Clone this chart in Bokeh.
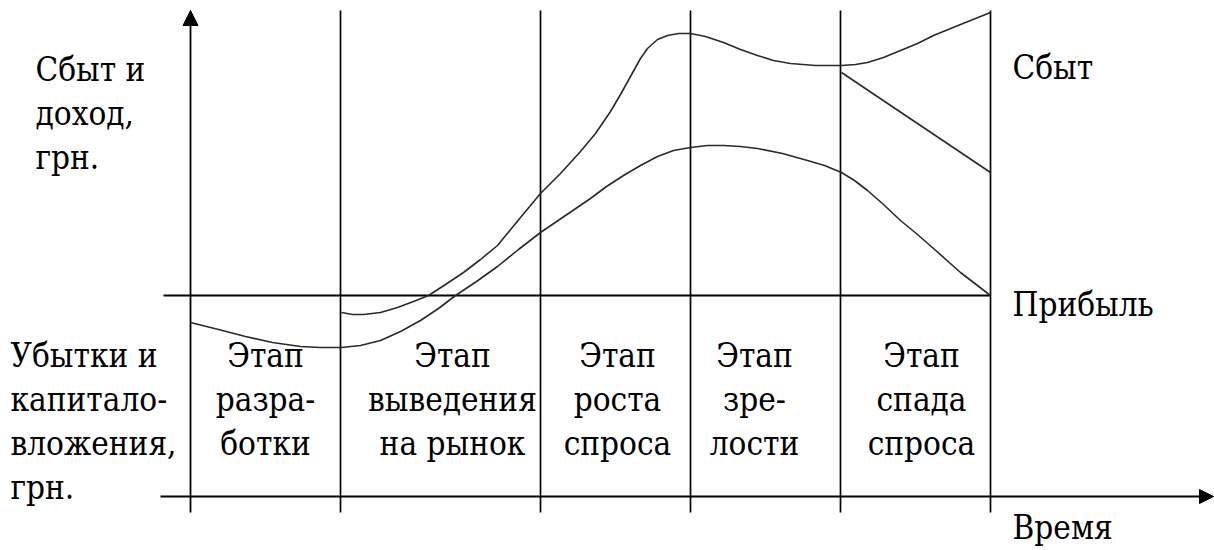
from bokeh.plotting import figure
from bokeh.models import Range1d, Arrow, NormalHead
from bokeh.core.properties import value
from bokeh.embed import file_html
from bokeh.resources import INLINE

# ---------------- data (time units / money units) ----------------
stage_bounds = [0, 15, 35, 50, 65, 80]
stage_labels = [
    ["Этап", "разра-", "ботки"],
    ["Этап", "выведения", "на рынок"],
    ["Этап", "роста", "спроса"],
    ["Этап", "зре-", "лости"],
    ["Этап", "спада", "спроса"],
]

sales_t = [15.1, 16.2, 17.3, 19.0, 20.7, 22.3, 23.8, 25.5, 27.3, 29.0, 30.7, 33.0,
           35.0, 37.0, 39.0, 40.5, 42.0, 43.0, 44.0, 45.0, 45.7, 46.7, 47.7, 48.8,
           50.0, 51.5, 53.3, 55.0, 56.7, 58.3, 60.0, 62.5, 65.1, 66.5, 67.7, 69.3,
           71.0, 72.7, 74.3, 77.0, 80.0]
sales_v = [-1.7, -1.9, -1.9, -1.7, -1.2, -0.6, 0.0, 1.1, 2.3, 3.6, 5.0, 7.8,
           10.2, 12.2, 14.4, 16.2, 18.4, 20.1, 21.9, 23.7, 24.7, 25.6, 26.0, 26.2,
           26.2, 25.9, 25.3, 24.6, 24.0, 23.5, 23.2, 23.0, 23.0, 23.1, 23.3, 23.8,
           24.5, 25.2, 26.0, 27.1, 28.3]

sales_decline_t = [65.1, 80.0]
sales_decline_v = [22.3, 12.3]

profit_t = [0.0, 2.8, 5.5, 8.2, 11.0, 13.0, 15.1, 17.0, 19.0, 21.0, 23.0, 24.8,
            26.5, 28.6, 30.7, 32.8, 35.0, 37.5, 40.0, 41.6, 43.3, 45.0, 46.7, 48.3,
            50.0, 51.7, 53.3, 55.0, 56.7, 59.2, 61.7, 63.4, 65.1, 66.4, 67.7, 69.3,
            71.0, 72.7, 74.3, 77.0, 80.0]
profit_v = [-2.7, -3.4, -4.1, -4.7, -5.1, -5.2, -5.2, -5.0, -4.5, -3.6, -2.5, -1.3,
            0.0, 1.4, 2.9, 4.6, 6.3, 8.0, 9.7, 10.9, 12.0, 13.0, 13.9, 14.5,
            14.8, 15.0, 15.0, 14.9, 14.7, 14.2, 13.5, 13.0, 12.3, 11.5, 10.5, 9.1,
            7.5, 6.1, 4.7, 2.3, 0.0]

upper_axis_label = ["Сбыт и", "доход,", "грн."]
lower_axis_label = ["Убытки и", "капитало-", "вложения,", "грн."]
right_labels = ["Сбыт", "Прибыль", "Время"]

# ---------------- layout ----------------
FONT = value("DejaVu Serif Condensed, DejaVu Serif")
FS = "33px"
TEXT_DY = 1.3          # compensation for the renderer's baseline placement
LINE_STEP = 4.4
grid_top = 28.5
grid_bottom = -21.7
time_axis_v = -20.1
time_axis_start = -3.0
time_axis_end = 102.3
zero_start = -2.7
stage_label_x = [7.5, 26.2, 42.7, 56.4, 73.1]
stage_label_top = -7.3 + TEXT_DY
upper_label_pos = (-15.5, 21.3 + TEXT_DY)
lower_label_pos = (-18.0, -7.3 + TEXT_DY)
right_label_x = 82.2
right_label_v = [21.5 + TEXT_DY, -2.2 + TEXT_DY, -24.5 + TEXT_DY]

p = figure(width=1214, height=550,
           x_range=Range1d(-19.0, 102.4), y_range=Range1d(-25.5, 29.5),
           output_backend="svg", toolbar_location=None,
           x_axis_type=None, y_axis_type=None, min_border=0)
p.grid.visible = False
p.outline_line_color = None
p.background_fill_color = "white"
p.border_fill_color = "white"

p.segment(x0=stage_bounds[1:], y0=[grid_bottom] * 5,
          x1=stage_bounds[1:], y1=[grid_top] * 5,
          line_color="black", line_width=1.7)
p.segment(x0=[zero_start], y0=[0], x1=[stage_bounds[-1]], y1=[0],
          line_color="black", line_width=2)

p.add_layout(Arrow(x_start=0, y_start=grid_bottom, x_end=0, y_end=grid_top,
                   line_color="black", line_width=1.8,
                   end=NormalHead(size=15, fill_color="black", line_color="black")))
p.add_layout(Arrow(x_start=time_axis_start, y_start=time_axis_v,
                   x_end=time_axis_end, y_end=time_axis_v,
                   line_color="black", line_width=2,
                   end=NormalHead(size=14, fill_color="black", line_color="black")))

p.line(sales_t, sales_v, line_color="#2a2a2a", line_width=1.6)
p.line(sales_decline_t, sales_decline_v, line_color="#2a2a2a", line_width=1.6)
p.line(profit_t, profit_v, line_color="#2a2a2a", line_width=1.6)

for cx, lines in zip(stage_label_x, stage_labels):
    ys = [stage_label_top - i * LINE_STEP for i in range(len(lines))]
    p.text(x=[cx] * len(lines), y=ys, text=lines, text_font=FONT,
           text_font_size=FS, text_align="center", text_baseline="alphabetic",
           text_color="black")

ux, uy = upper_label_pos
p.text(x=[ux] * 3, y=[uy - i * LINE_STEP for i in range(3)], text=upper_axis_label,
       text_font=FONT, text_font_size=FS, text_align="left",
       text_baseline="alphabetic", text_color="black")
lx, ly = lower_label_pos
p.text(x=[lx] * 4, y=[ly - i * LINE_STEP for i in range(4)], text=lower_axis_label,
       text_font=FONT, text_font_size=FS, text_align="left",
       text_baseline="alphabetic", text_color="black")
p.text(x=[right_label_x] * 3, y=right_label_v, text=right_labels,
       text_font=FONT, text_font_size=FS, text_align="left",
       text_baseline="alphabetic", text_color="black")

open("out.html", "w").write(file_html(p, INLINE))
